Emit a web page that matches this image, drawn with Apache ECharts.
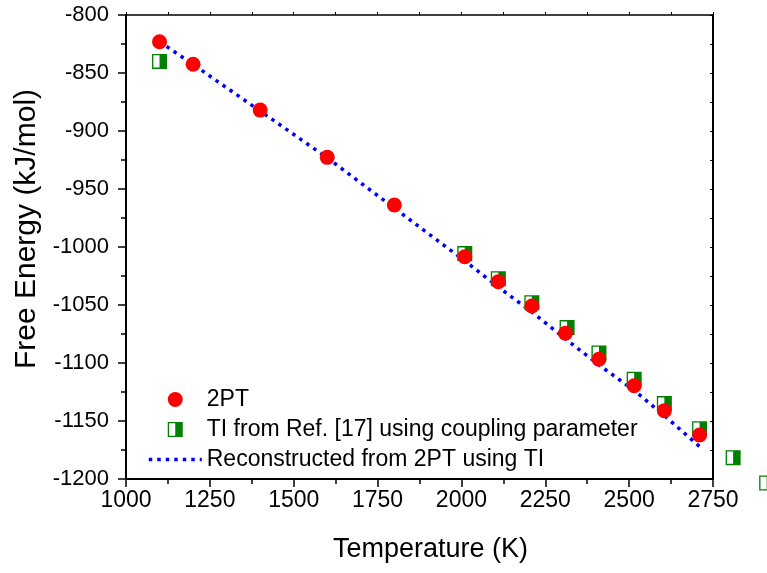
<!DOCTYPE html>
<html>
<head>
<meta charset="utf-8">
<script src="https://cdn.jsdelivr.net/npm/echarts@6/dist/echarts.min.js"></script>
<style>
html,body{margin:0;padding:0;background:#fff;}
#chart{width:767px;height:573px;}
</style>
</head>
<body>
<div id="chart"></div>
<script>
// ---- data ----
var temps2PT = [1100, 1200, 1400, 1600, 1800, 2010, 2110, 2210, 2310, 2410, 2515, 2605, 2710];
var fe2PT    = [-823, -842.5, -882, -922.7, -963.8, -1008.4, -1029.9, -1050.9, -1074.4, -1096.8, -1119.6, -1141.1, -1162.1];

var tempsTI  = [1100, 2010, 2110, 2210, 2315, 2410, 2515, 2605, 2710, 2810, 2910];
var feTI     = [-840, -1005.7, -1027.3, -1048, -1069.5, -1091.4, -1114, -1135, -1156.6, -1181.6, -1203.5];

var tempsLine = [1100, 1200, 1400, 1600, 1800, 2010, 2110, 2210, 2310, 2410, 2515, 2605, 2710];
var feLine    = [-823, -842.6, -882.8, -923.1, -966.5, -1012, -1034.6, -1056, -1079.2, -1101.7, -1123.7, -1145.4, -1172];

var seriesNames = ['2PT', 'TI from Ref. [17] using coupling parameter', 'Reconstructed from 2PT using TI'];
var xTitle = 'Temperature (K)';
var yTitle = 'Free Energy (kJ/mol)';

function zip(a, b) { return a.map(function (v, i) { return [v, b[i]]; }); }
function plain(v) { return String(v); }

var FONT = '"Liberation Sans", Arial, sans-serif';
var halfSquare = 'path://M0,0H16V16H0Z M1.4,1.4V14.6H14.6V1.4Z M8,1.4H14.6V14.6H8Z';
var dotted = {color: '#0000ff', width: 3.5, type: [3.5, 5], cap: 'butt'};

var chart = echarts.init(document.getElementById('chart'), null, {renderer: 'canvas'});
var option = {
  backgroundColor: '#fff',
  animation: false,
  textStyle: {fontFamily: FONT, color: '#000'},
  grid: {left: 126, right: 54, top: 15, bottom: 94, containLabel: false},
  legend: {
    data: [
      {name: seriesNames[0]},
      {name: seriesNames[1], icon: halfSquare},
      {name: seriesNames[2], itemStyle: {color: 'rgba(0,0,0,0)', borderColor: 'rgba(0,0,0,0)', borderWidth: 0, opacity: 0}, lineStyle: dotted}
    ],
    orient: 'vertical',
    left: 147, top: 388,
    padding: 0,
    itemWidth: 53, itemHeight: 15, itemGap: 7,
    textStyle: {fontFamily: FONT, fontSize: 23, color: '#000', lineHeight: 23},
    selectedMode: false
  },
  xAxis: [{
    type: 'value', position: 'bottom',
    min: 1000, max: 2750, interval: 250,
    name: xTitle, nameLocation: 'middle', nameGap: 57,
    nameTextStyle: {fontFamily: FONT, fontSize: 27, color: '#000', padding: [0, 0, 0, 22]},
    axisLine: {show: true, onZero: false, lineStyle: {color: '#000', width: 2}},
    axisTick: {show: true, inside: false, length: 8, lineStyle: {color: '#000', width: 1.5}},
    minorTick: {show: true, splitNumber: 2, length: 5, lineStyle: {color: '#000', width: 1.5}},
    axisLabel: {fontFamily: FONT, fontSize: 23, color: '#000', margin: 10, formatter: plain},
    splitLine: {show: false}
  }, {
    type: 'value', position: 'top',
    min: 1000, max: 2750, interval: 125,
    axisLine: {show: true, onZero: false, lineStyle: {color: '#000', width: 1.5}},
    axisTick: {show: true, inside: false, length: 3, lineStyle: {color: '#000', width: 1}},
    axisLabel: {show: false},
    splitLine: {show: false}
  }],
  yAxis: [{
    type: 'value', position: 'left',
    min: -1200, max: -800, interval: 50,
    name: yTitle, nameLocation: 'middle', nameGap: 80, nameRotate: 90,
    nameTextStyle: {fontFamily: FONT, fontSize: 30, color: '#000', padding: [0, 0, 0, 36]},
    axisLine: {show: true, onZero: false, lineStyle: {color: '#000', width: 2}},
    axisTick: {show: true, inside: false, length: 8, lineStyle: {color: '#000', width: 1.5}},
    minorTick: {show: true, splitNumber: 2, length: 5, lineStyle: {color: '#000', width: 1.5}},
    axisLabel: {fontFamily: FONT, fontSize: 22, color: '#000', margin: 17, formatter: plain},
    splitLine: {show: false}
  }, {
    type: 'value', position: 'right',
    min: -1200, max: -800, interval: 25,
    axisLine: {show: true, onZero: false, lineStyle: {color: '#000', width: 2}},
    axisTick: {show: true, inside: true, length: 3, lineStyle: {color: '#000', width: 1}},
    axisLabel: {show: false},
    splitLine: {show: false}
  }],
  series: [{
    name: seriesNames[2],
    type: 'line',
    data: zip(tempsLine, feLine),
    showSymbol: false, symbol: 'none',
    lineStyle: dotted,
    itemStyle: {color: '#0000ff'},
    z: 2
  }, {
    name: 'ti-under',
    type: 'scatter',
    data: zip(tempsTI, feTI),
    symbol: 'rect', symbolSize: 15,
    itemStyle: {color: '#ffffff', opacity: 1},
    clip: false, silent: true,
    z: 3
  }, {
    name: seriesNames[1],
    type: 'scatter',
    data: zip(tempsTI, feTI),
    symbol: halfSquare, symbolSize: 15,
    itemStyle: {color: '#008000', opacity: 1},
    clip: false,
    z: 4
  }, {
    name: seriesNames[0],
    type: 'scatter',
    data: zip(temps2PT, fe2PT),
    symbol: 'circle', symbolSize: 15,
    itemStyle: {color: '#ff0000', opacity: 1},
    clip: false,
    z: 5
  }]
};
chart.setOption(option);
</script>
</body>
</html>
